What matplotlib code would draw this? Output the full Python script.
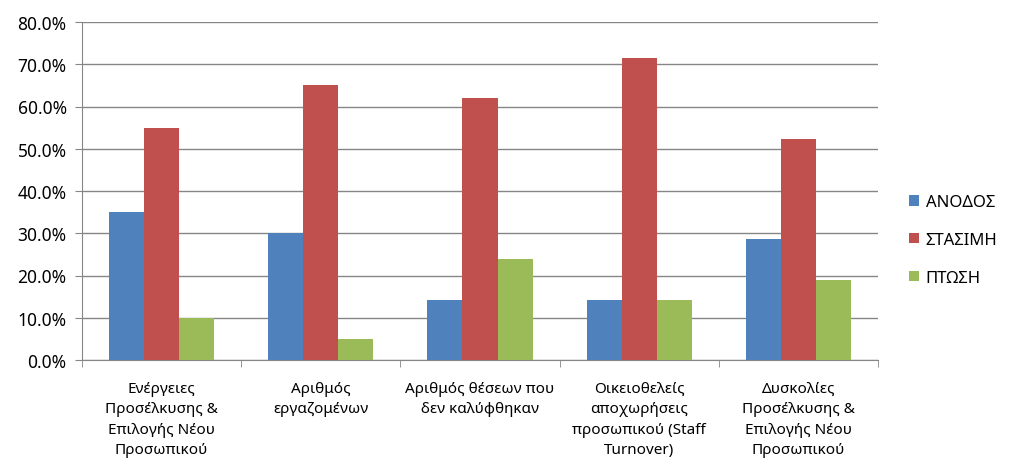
import numpy as np
import matplotlib.pyplot as plt
from matplotlib.ticker import FixedLocator, NullFormatter

plt.rcParams['font.family'] = ['Noto Sans', 'DejaVu Sans']

categories = ['Ενέργειες\nΠροσέλκυσης &\nΕπιλογής Νέου\nΠροσωπικού',
              'Αριθμός\nεργαζομένων',
              'Αριθμός θέσεων που\nδεν καλύφθηκαν',
              'Οικειοθελείς\nαποχωρήσεις\nπροσωπικού (Staff\nTurnover)',
              'Δυσκολίες\nΠροσέλκυσης &\nΕπιλογής Νέου\nΠροσωπικού']
anodos = [35.0, 30.0, 14.3, 14.3, 28.6]
stasimi = [55.0, 65.0, 61.9, 71.4, 52.4]
ptosi = [10.0, 5.0, 23.8, 14.3, 19.0]
series = ['ΑΝΟΔΟΣ', 'ΣΤΑΣΙΜΗ', 'ΠΤΩΣΗ']
colors = ['#4F81BD', '#C0504D', '#9BBB59']

fig = plt.figure(figsize=(10.24, 4.77), dpi=100)
ax = fig.add_axes([82/1024, 1-361/477, (878-82)/1024, (361-23)/477])

x = np.arange(len(categories))
w = 0.22
for i, (vals, name, c) in enumerate(zip([anodos, stasimi, ptosi], series, colors)):
    ax.bar(x + (i - 1) * w, vals, w, color=c, label=name, zorder=3)

ax.set_xlim(-0.5, len(categories) - 0.5)
ax.set_ylim(0, 80)
ax.set_yticks(np.arange(0, 81, 10))
ax.set_yticklabels(['%.1f%%' % v for v in np.arange(0, 81, 10)], fontsize=12.5)
ax.yaxis.grid(True, color='#868686', lw=1, zorder=0)

ax.set_xticks(x)
ax.set_xticklabels(categories, fontsize=11, linespacing=1.5)
ax.tick_params(axis='x', length=0, pad=15)
ax.xaxis.set_minor_locator(FixedLocator(np.arange(-0.5, len(categories), 1)))
ax.xaxis.set_minor_formatter(NullFormatter())
ax.tick_params(axis='x', which='minor', length=5, color='#868686')
ax.tick_params(axis='y', length=5, color='#868686', pad=6)

for s in ['top', 'right']:
    ax.spines[s].set_visible(False)
for s in ['left', 'bottom']:
    ax.spines[s].set_color('#868686')

ax.legend(loc='center left', bbox_to_anchor=(1.02, 0.355), frameon=False,
          fontsize=12, handlelength=0.6, handleheight=0.6, labelspacing=1.3,
          handletextpad=0.4)

fig.savefig('out.png', dpi=100)
